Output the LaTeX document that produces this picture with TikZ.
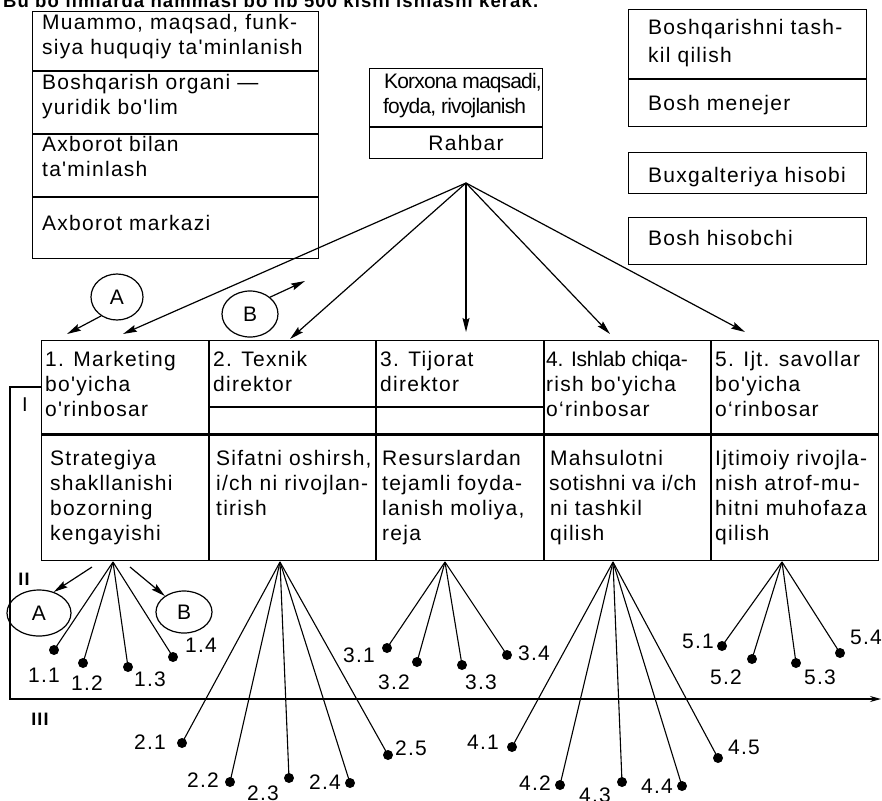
\documentclass[tikz,border=0pt]{standalone}
\usepackage{fontspec}
\newfontfamily\mainsf{Liberation Sans}[LetterSpace=6]
\usetikzlibrary{arrows.meta,shapes.geometric}
\begin{document}
\begin{tikzpicture}[x=1pt,y=-1pt,
  every node/.style={inner sep=0pt, font=\mainsf\fontsize{21}{24}\selectfont},
  txt/.style={anchor=base west},
  ctxt/.style={anchor=base},
  lbl/.style={anchor=center},
  tight/.style={font=\mainsf\fontsize{21}{24}\selectfont\addfontfeature{LetterSpace=-4}},
  frame/.style={draw, line width=1.4pt},
  rule/.style={line width=1.2pt},
  heavy/.style={line width=3pt},
  arr/.style={line width=1.2pt, -{Stealth[length=14pt,width=7pt,inset=2pt]}},
  fanline/.style={line width=1.1pt},
  dot/.style={circle, fill, minimum size=10pt},
  oval/.style={ellipse, draw, line width=1.2pt, inner sep=0pt},
  roman/.style={font=\mainsf\fontsize{18}{20}\selectfont\bfseries}
]
\useasboundingbox (0,0) rectangle (882,800);

% heading cut by the top edge
\begin{scope}
\clip (0,0) rectangle (882,800);
\node[anchor=base west, font=\mainsf\fontsize{18.5}{20}\selectfont\bfseries] (head) at (3,8) {Bu bo'limlarda hammasi bo'lib 500 kishi ishlashi kerak.};
\end{scope}

% top-left box
\node[frame, anchor=north west, minimum width=286pt, minimum height=247pt] (tlbox) at (32,11) {};
\draw[rule] (32,71) -- (318,71) (32,134) -- (318,134);
\draw[frame] (32,197) -- (318,197);
\node[txt] (tl1) at (42,30) {Muammo, maqsad, funk-};
\node[txt] (tl2) at (42,55) {siya huquqiy ta'minlanish};
\node[txt] (tl3) at (42,89) {Boshqarish organi —};
\node[txt] (tl4) at (42,114) {yuridik bo'lim};
\node[txt] (tl5) at (42,151) {Axborot bilan};
\node[txt] (tl6) at (42,176) {ta'minlash};
\node[txt] (tl7) at (42,230) {Axborot markazi};

% top-centre box
\node[frame, anchor=north west, minimum width=173pt, minimum height=90pt] (kbox) at (369,68) {};
\draw[rule] (369,127) -- (542,127);
\node[txt, tight] (k1) at (384,88) {Korxona maqsadi,};
\node[txt, tight] (k2) at (383,113) {foyda, rivojlanish};
\node[ctxt] (rahbar) at (466,150) {Rahbar};

% top-right boxes
\node[frame, anchor=north west, minimum width=238pt, minimum height=117pt] (rb1) at (628,9) {};
\draw[rule] (628,79) -- (866,79);
\node[txt] (r1) at (648,35) {Boshqarishni tash-};
\node[txt] (r2) at (648,63) {kil qilish};
\node[txt] (r3) at (648,110) {Bosh menejer};
\node[frame, anchor=north west, minimum width=238pt, minimum height=41pt] (rb2) at (628,152) {};
\node[txt] (r4) at (648,182) {Buxgalteriya hisobi};
\node[frame, anchor=north west, minimum width=238pt, minimum height=47pt] (rb3) at (628,217) {};
\node[txt] (r5) at (648,245) {Bosh hisobchi};

% main table
\node[frame, anchor=north west, minimum width=837pt, minimum height=220pt] (tbl) at (41,340) {};
\draw[frame] (209,340) -- (209,560) (376,340) -- (376,560) (544,340) -- (544,560) (711,340) -- (711,560);
\draw[line width=2.4pt] (209,407) -- (544,407);
\draw[heavy] (41,434) -- (878,434);

\foreach \t [count=\i from 0] in {{1. Marketing},{bo'yicha},{o'rinbosar}}
  \node[txt] (ra\i) at (45,{366+25*\i}) {\t};
\foreach \t [count=\i from 0] in {{2. Texnik},{direktor}}
  \node[txt] (rb\i) at (213,{366+25*\i}) {\t};
\foreach \t [count=\i from 0] in {{3. Tijorat},{direktor}}
  \node[txt] (rc\i) at (380,{366+25*\i}) {\t};
\node[txt, font=\mainsf\fontsize{21}{24}\selectfont\addfontfeature{LetterSpace=-1}] (rd0) at (546,366) {4. Ishlab chiqa-};
\foreach \t [count=\i from 1] in {{rish bo'yicha},{o‘rinbosar}}
  \node[txt] (rd\i) at (546,{366+25*\i}) {\t};
\foreach \t [count=\i from 0] in {{5. Ijt. savollar},{bo'yicha},{o‘rinbosar}}
  \node[txt] (re\i) at (715,{366+25*\i}) {\t};

\foreach \t [count=\i from 0] in {{Strategiya},{shakllanishi},{bozorning},{kengayishi}}
  \node[txt] (sa\i) at (50,{465+25*\i}) {\t};
\foreach \t [count=\i from 0] in {{Sifatni oshirsh,},{i/ch ni rivojlan-},{tirish}}
  \node[txt] (sb\i) at (216,{465+25*\i}) {\t};
\foreach \t [count=\i from 0] in {{Resurslardan},{tejamli foyda-},{lanish moliya,},{reja}}
  \node[txt] (sc\i) at (382,{465+25*\i}) {\t};
\node[txt] (sd0) at (550,465) {Mahsulotni};
\node[txt, font=\mainsf\fontsize{21}{24}\selectfont\addfontfeature{LetterSpace=3.5}] (sd1) at (549,490) {sotishni va i/ch};
\node[txt] (sd2) at (550,515) {ni tashkil};
\node[txt] (sd3) at (550,540) {qilish};
\foreach \t [count=\i from 0] in {{Ijtimoiy rivojla-},{nish atrof-mu-},{hitni muhofaza},{qilish}}
  \node[txt] (se\i) at (715,{465+25*\i}) {\t};

% arrows from the head
\coordinate (apex) at (466,183);
\coordinate (t1) at (123,334);
\coordinate (t2) at (290,339);
\coordinate (t3) at (466,332);
\coordinate (t4) at (610,334);
\coordinate (t5) at (745,332);
\foreach \k in {1,...,5} \draw[arr] (apex) -- (t\k);

% A and B ovals
\node[oval, minimum width=52pt, minimum height=46pt] (ovA) at (117,297) {A};
\node[oval, minimum width=56pt, minimum height=46pt] (ovB) at (250,314) {B};
\coordinate (aA) at (67,334);
\coordinate (aB) at (305,281);
\draw[arr] (ovA.230) -- (aA);
\draw[arr] (ovB.40) -- (aB);

\node[oval, minimum width=64pt, minimum height=46pt] (ovA2) at (39,613) {A};
\node[oval, minimum width=56pt, minimum height=42pt] (ovB2) at (184,612) {B};
\coordinate (sA) at (92,567);
\coordinate (sB) at (130,567);
\draw[arr] (sA) -- (ovA2.55);
\draw[arr] (sB) -- (ovB2.140);

% level bracket
\coordinate (brk) at (41,387);
\coordinate (brk1) at (10,387);
\coordinate (brk2) at (10,699);
\coordinate (axend) at (881,699);
\draw[line width=1.4pt, -{Stealth[length=11pt,width=6pt]}] (brk) -- (brk1) -- (brk2) -- (axend);
\node[font=\mainsf\fontsize{20}{22}\selectfont] (rI) at (25,405) {I};
\node[roman] (rII) at (24,579) {II};
\node[roman] (rIII) at (40,719) {III};

% fans
\coordinate (f1) at (113,562);
\coordinate (f2) at (280,562);
\coordinate (f3) at (445,562);
\coordinate (f4) at (613,562);
\coordinate (f5) at (782,562);
\foreach \k/\t/\dx/\dy/\lx/\ly/\f in {
  11/1.1/54/650/44/675/f1, 12/1.2/83/663/87/683/f1, 13/1.3/128/667/150/679/f1, 14/1.4/173/657/201/645/f1,
  21/2.1/182/743/150/742/f2, 22/2.2/230/782/203/780/f2, 23/2.3/289/778/263/793/f2, 24/2.4/350/783/325/782/f2, 25/2.5/388/755/411/748/f2,
  31/3.1/387/648/359/655/f3, 32/3.2/417/662/394/682/f3, 33/3.3/462/665/481/682/f3, 34/3.4/507/655/534/653/f3,
  41/4.1/512/747/483/742/f4, 42/4.2/560/785/535/783/f4, 43/4.3/622/782/595/795/f4, 44/4.4/682/786/657/786/f4, 45/4.5/718/758/744/747/f4,
  51/5.1/722/646/698/641/f5, 52/5.2/752/659/726/677/f5, 53/5.3/796/663/820/677/f5, 54/5.4/840/653/866/637/f5}
{
  \node[dot] (d\k) at (\dx,\dy) {};
  \node[lbl] (l\k) at (\lx,\ly) {\t};
  \draw[fanline] (\f) -- (d\k.center);
}
\end{tikzpicture}
\end{document}
